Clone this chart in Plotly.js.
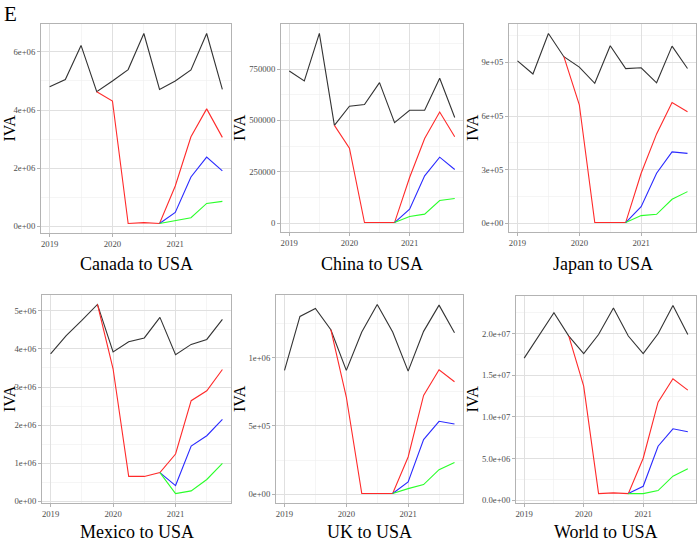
<!DOCTYPE html>
<html>
<head>
<meta charset="utf-8">
<script src="https://cdn.plot.ly/plotly-3.0.1.min.js"></script>
<style>html,body{margin:0;padding:0;background:#fff;} #chart{width:698px;height:544px;}</style>
</head>
<body>
<div id="chart"></div>
<script>
// ---------- DATA ----------
const quarters = [2019, 2019.25, 2019.5, 2019.75, 2020, 2020.25, 2020.5, 2020.75, 2021, 2021.25, 2021.5, 2021.75];
const xTickVals = [2019, 2020, 2021];
const xTickText = ["2019", "2020", "2021"];
const panelTitles = ["Canada to USA", "China to USA", "Japan to USA", "Mexico to USA", "UK to USA", "World to USA"];

// Canada to USA
const canadaBase = [4.80e6, 5.05e6, 6.22e6, 4.63e6, 5.00e6, 5.39e6, 6.63e6, 4.71e6, 5.00e6, 5.38e6, 6.63e6, 4.71e6];
const canadaRed = [null, null, null, 4.63e6, 4.31e6, 0.10e6, 0.13e6, 0.10e6, 1.39e6, 3.08e6, 4.04e6, 3.06e6];
const canadaBlue = [null, null, null, null, null, null, null, 0.10e6, 0.48e6, 1.70e6, 2.38e6, 1.91e6];
const canadaGreen = [null, null, null, null, null, null, null, 0.10e6, 0.21e6, 0.30e6, 0.79e6, 0.86e6];
const canadaYTicks = [0, 2e6, 4e6, 6e6];
const canadaYText = ["0e+00", "2e+06", "4e+06", "6e+06"];

// China to USA
const chinaBase = [740000, 692000, 923000, 476000, 569000, 577000, 684000, 489000, 549000, 549000, 705000, 514000];
const chinaRed = [null, null, null, 476000, 365000, 3000, 3000, 3000, 222000, 412000, 541000, 420000];
const chinaBlue = [null, null, null, null, null, null, null, 3000, 68000, 230000, 321000, 261000];
const chinaGreen = [null, null, null, null, null, null, null, 3000, 32000, 44000, 110000, 120000];
const chinaYTicks = [0, 250000, 500000, 750000];
const chinaYText = ["0", "250000", "500000", "750000"];

// Japan to USA
const japanBase = [9.09e5, 8.35e5, 1.062e6, 9.32e5, 8.74e5, 7.83e5, 9.93e5, 8.65e5, 8.70e5, 7.86e5, 9.91e5, 8.66e5];
const japanRed = [null, null, null, 9.32e5, 6.63e5, 4000, 4000, 4000, 2.80e5, 5.00e5, 6.75e5, 6.24e5];
const japanBlue = [null, null, null, null, null, null, null, 4000, 9.3e4, 2.80e5, 3.99e5, 3.91e5];
const japanGreen = [null, null, null, null, null, null, null, 4000, 4.3e4, 5.0e4, 1.34e5, 1.77e5];
const japanYTicks = [0, 3e5, 6e5, 9e5];
const japanYText = ["0e+00", "3e+05", "6e+05", "9e+05"];

// Mexico to USA
const mexicoBase = [3.87e6, 4.35e6, 4.75e6, 5.17e6, 3.92e6, 4.19e6, 4.29e6, 4.83e6, 3.85e6, 4.12e6, 4.25e6, 4.78e6];
const mexicoRed = [null, null, null, 5.17e6, 3.48e6, 0.65e6, 0.65e6, 0.75e6, 1.24e6, 2.64e6, 2.90e6, 3.46e6];
const mexicoBlue = [null, null, null, null, null, null, null, 0.75e6, 0.41e6, 1.45e6, 1.72e6, 2.15e6];
const mexicoGreen = [null, null, null, null, null, null, null, 0.75e6, 0.20e6, 0.27e6, 0.57e6, 0.99e6];
const mexicoYTicks = [0, 1e6, 2e6, 3e6, 4e6, 5e6];
const mexicoYText = ["0e+00", "1e+06", "2e+06", "3e+06", "4e+06", "5e+06"];

// UK to USA
const ukBase = [9.07e5, 1.302e6, 1.361e6, 1.205e6, 9.07e5, 1.188e6, 1.390e6, 1.188e6, 9.02e5, 1.193e6, 1.385e6, 1.183e6];
const ukRed = [null, null, null, 1.205e6, 7.12e5, 5000, 5000, 5000, 2.73e5, 7.24e5, 9.12e5, 8.24e5];
const ukBlue = [null, null, null, null, null, null, null, 5000, 9.0e4, 4.00e5, 5.34e5, 5.15e5];
const ukGreen = [null, null, null, null, null, null, null, 5000, 4.1e4, 7.1e4, 1.80e5, 2.32e5];
const ukYTicks = [0, 5e5, 1e6];
const ukYText = ["0e+00", "5e+05", "1e+06"];

// World to USA
const worldBase = [1.707e7, 1.98e7, 2.253e7, 1.972e7, 1.76e7, 1.99e7, 2.31e7, 1.972e7, 1.76e7, 2.00e7, 2.34e7, 1.99e7];
const worldRed = [null, null, null, 1.972e7, 1.37e7, 8.0e5, 8.8e5, 8.0e5, 5.05e6, 1.178e7, 1.459e7, 1.323e7];
const worldBlue = [null, null, null, null, null, null, null, 8.0e5, 1.68e6, 6.49e6, 8.58e6, 8.22e6];
const worldGreen = [null, null, null, null, null, null, null, 8.0e5, 8.0e5, 1.16e6, 2.89e6, 3.77e6];
const worldYTicks = [0, 5e6, 1e7, 1.5e7, 2e7];
const worldYText = ["0.0e+00", "5.0e+06", "1.0e+07", "1.5e+07", "2.0e+07"];

// ---------- LAYOUT (pixels) ----------
const W = 698, H = 544;
const boxes = [
  [41, 231, 24, 233], [281, 463, 24, 232], [509, 696, 24, 232],
  [42, 231, 295, 503], [276, 463, 295, 503], [516, 696, 296, 503]
];
const titleY = [264, 264, 264, 532, 532, 532];
const ivaX = [9, 239, 472, 9, 239, 472];

const panels = [
  [canadaBase, canadaRed, canadaBlue, canadaGreen, canadaYTicks, canadaYText],
  [chinaBase, chinaRed, chinaBlue, chinaGreen, chinaYTicks, chinaYText],
  [japanBase, japanRed, japanBlue, japanGreen, japanYTicks, japanYText],
  [mexicoBase, mexicoRed, mexicoBlue, mexicoGreen, mexicoYTicks, mexicoYText],
  [ukBase, ukRed, ukBlue, ukGreen, ukYTicks, ukYText],
  [worldBase, worldRed, worldBlue, worldGreen, worldYTicks, worldYText]
];
const colors = ["#333333", "#ff2a2a", "#2a2aff", "#2aff2a"];
const seriesNames = ["Baseline", "Scenario 1", "Scenario 2", "Scenario 3"];

const FONT = "Liberation Serif, Times New Roman, serif";
const traces = [];
const layout = {
  width: W, height: H,
  margin: {l: 0, r: 0, t: 0, b: 0},
  paper_bgcolor: "#ffffff", plot_bgcolor: "#ffffff",
  showlegend: false,
  font: {family: FONT, color: "#4d4d4d"},
  annotations: [{
    text: "E", xref: "paper", yref: "paper", x: 2 / W, y: 1 - 0 / H,
    xanchor: "left", yanchor: "top", showarrow: false,
    font: {family: FONT, size: 21, color: "#000000"}
  }]
};

function mids(arr) {
  const step = arr[1] - arr[0];
  const out = [arr[0] - step / 2];
  for (let i = 0; i < arr.length; i++) out.push(arr[i] + step / 2);
  return out;
}

const xMin = quarters[0], xMax = quarters[quarters.length - 1];
const xPad = (xMax - xMin) * 0.05;

panels.forEach((p, i) => {
  const n = i + 1;
  const xa = n === 1 ? "x" : "x" + n;
  const ya = n === 1 ? "y" : "y" + n;
  const [base, red, blue, green, yTicks, yText] = p;
  const all = [].concat(base, red, blue, green).filter(v => v !== null);
  const yMin = Math.min(...all), yMax = Math.max(...all);
  const yPad = (yMax - yMin) * 0.05;
  [base, red, blue, green].forEach((s, k) => {
    traces.push({
      x: quarters, y: s, xaxis: xa, yaxis: ya, type: "scatter", mode: "lines",
      name: seriesNames[k], line: {color: colors[k], width: 1.1}, connectgaps: false,
      hoverinfo: "x+y"
    });
  });
  const [l, r, t, b] = boxes[i];
  const axisCommon = {
    showline: true, mirror: true, linecolor: "#b3b3b3", linewidth: 1,
    ticks: "outside", ticklen: 3, tickcolor: "#b3b3b3", tickwidth: 1,
    showgrid: true, gridcolor: "#e0e0e0", gridwidth: 1,
    zeroline: false, tickmode: "array",
    tickfont: {family: FONT, size: 8.7, color: "#4d4d4d"}
  };
  layout["xaxis" + (n === 1 ? "" : n)] = Object.assign({}, axisCommon, {
    domain: [l / W, r / W], anchor: ya,
    range: [xMin - xPad, xMax + xPad],
    tickvals: xTickVals, ticktext: xTickText,
    minor: {tickmode: "array", tickvals: mids(xTickVals), showgrid: true, gridcolor: "#efefef", gridwidth: 0.6, ticklen: 0}
  });
  layout["yaxis" + (n === 1 ? "" : n)] = Object.assign({}, axisCommon, {
    domain: [1 - b / H, 1 - t / H], anchor: xa,
    range: [yMin - yPad, yMax + yPad],
    tickvals: yTicks, ticktext: yText,
    minor: {tickmode: "array", tickvals: mids(yTicks), showgrid: true, gridcolor: "#efefef", gridwidth: 0.6, ticklen: 0}
  });
  layout.annotations.push({
    text: panelTitles[i], xref: "paper", yref: "paper",
    x: ((l + r) / 2) / W, y: 1 - titleY[i] / H, xanchor: "center", yanchor: "middle",
    showarrow: false, font: {family: FONT, size: 18, color: "#000000"}
  });
  layout.annotations.push({
    text: "IVA", xref: "paper", yref: "paper", textangle: -90,
    x: ivaX[i] / W, y: 1 - ((t + b) / 2) / H, xanchor: "center", yanchor: "middle",
    showarrow: false, font: {family: FONT, size: 16, color: "#000000"}
  });
});

Plotly.newPlot("chart", traces, layout, {displayModeBar: false, staticPlot: true});
</script>
</body>
</html>
